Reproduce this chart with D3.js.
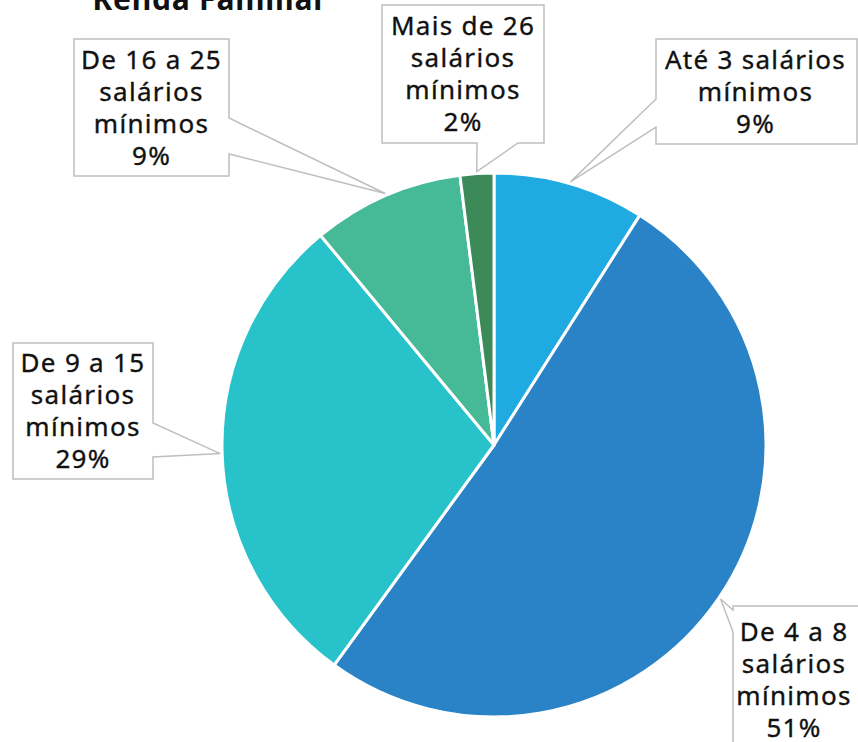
<!DOCTYPE html>
<html lang="pt">
<head>
<meta charset="utf-8">
<title>Renda Familiar</title>
<script src="https://d3js.org/d3.v7.min.js"></script>
<style>
  body { margin:0; background:#fff; }
  svg { display:block; }
  .callout text { font-family:"Noto Sans", sans-serif; font-size:26px; letter-spacing:1.3px; fill:#111; stroke:#111; stroke-width:0.35px; text-anchor:middle; }
  .title { font-family:"Noto Sans", sans-serif; font-size:30px; letter-spacing:0.8px; font-weight:bold; fill:#111; text-anchor:middle; }
</style>
</head>
<body>
<div id="chart"></div>
<script>
// data
var categories = ["Até 3 salários mínimos", "De 4 a 8 salários mínimos", "De 9 a 15 salários mínimos",
                  "De 16 a 25 salários mínimos", "Mais de 26 salários mínimos"];
var values = [9, 51, 29, 9, 2];
var labelLines = [
  ["Até 3 salários", "mínimos"],
  ["De 4 a 8", "salários", "mínimos"],
  ["De 9 a 15", "salários", "mínimos"],
  ["De 16 a 25", "salários", "mínimos"],
  ["Mais de 26", "salários", "mínimos"]
];
var colors = ["#1fabe2", "#2a83c7", "#28c3ca", "#46b996", "#3c8a58"];

var w = 858, h = 742;
var cx = 494, cy = 445, r = 272;

// callout boxes: box + which side the pointer comes out of + pointer base (two coords on that side)
var callouts = [
  {x0:656, y0:39,  x1:857, y1:144, side:"left",   b:[127, 99]},
  {x0:733, y0:606, x1:870, y1:760, side:"left",   b:[632, 610]},
  {x0:13,  y0:343, x1:153, y1:479, side:"right",  b:[423, 457]},
  {x0:74,  y0:39,  x1:229, y1:176, side:"right",  b:[118, 154]},
  {x0:382, y0:5,   x1:544, y1:143, side:"bottom", b:[518, 477]}
];

var svg = d3.select("#chart").append("svg")
  .attr("width", w)
  .attr("height", h);

var pie = d3.pie().sort(null).value(function(d) { return d; });
var arcs = pie(values);
var arc = d3.arc().innerRadius(0).outerRadius(r);

var g = svg.append("g").attr("transform", "translate(" + cx + "," + cy + ")");
g.selectAll("path")
  .data(arcs)
  .enter()
  .append("path")
  .attr("d", arc)
  .attr("fill", function(d, i) { return colors[i]; })
  .attr("stroke", "#fff")
  .attr("stroke-width", 3)
  .attr("stroke-linejoin", "round");

// pointer tip sits on the rim at the slice's mid angle
function tip(d) {
  var a = (d.startAngle + d.endAngle) / 2;
  var rr = r + 2;
  return [cx + rr * Math.sin(a), cy - rr * Math.cos(a)];
}

function calloutPath(c, t) {
  var p = d3.path();
  p.moveTo(c.x0, c.y0);
  p.lineTo(c.x1, c.y0);
  if (c.side == "right") {
    p.lineTo(c.x1, c.b[0]); p.lineTo(t[0], t[1]); p.lineTo(c.x1, c.b[1]);
  }
  p.lineTo(c.x1, c.y1);
  if (c.side == "bottom") {
    p.lineTo(c.b[0], c.y1); p.lineTo(t[0], t[1]); p.lineTo(c.b[1], c.y1);
  }
  p.lineTo(c.x0, c.y1);
  if (c.side == "left") {
    p.lineTo(c.x0, c.b[0]); p.lineTo(t[0], t[1]); p.lineTo(c.x0, c.b[1]);
  }
  p.closePath();
  return p.toString();
}

var lab = svg.selectAll(".callout")
  .data(arcs)
  .enter()
  .append("g")
  .attr("class", "callout");

lab.append("path")
  .attr("d", function(d, i) { return calloutPath(callouts[i], tip(d)); })
  .attr("fill", "#fff")
  .attr("stroke", "#bfbfbf")
  .attr("stroke-width", 1.5);

var lineH = 32;
lab.each(function(d, i) {
  var c = callouts[i];
  var lines = labelLines[i].concat([d3.format("d")(values[i]) + "%"]);
  var bh = c.y1 - c.y0;
  var mx = c.x0 + (Math.min(c.x1, w - 3) - c.x0) / 2;
  var top = c.y0 + (bh - lines.length * lineH) / 2 + 25;
  if (c.y1 > h) top = c.y0 + 35;
  var t = d3.select(this).append("text");
  lines.forEach(function(s, k) {
    t.append("tspan").attr("x", mx).attr("y", top + k * lineH).text(s);
  });
});

svg.append("text")
  .attr("class", "title")
  .attr("x", 210)
  .attr("y", 10)
  .text("Renda Familiar");
</script>
</body>
</html>
